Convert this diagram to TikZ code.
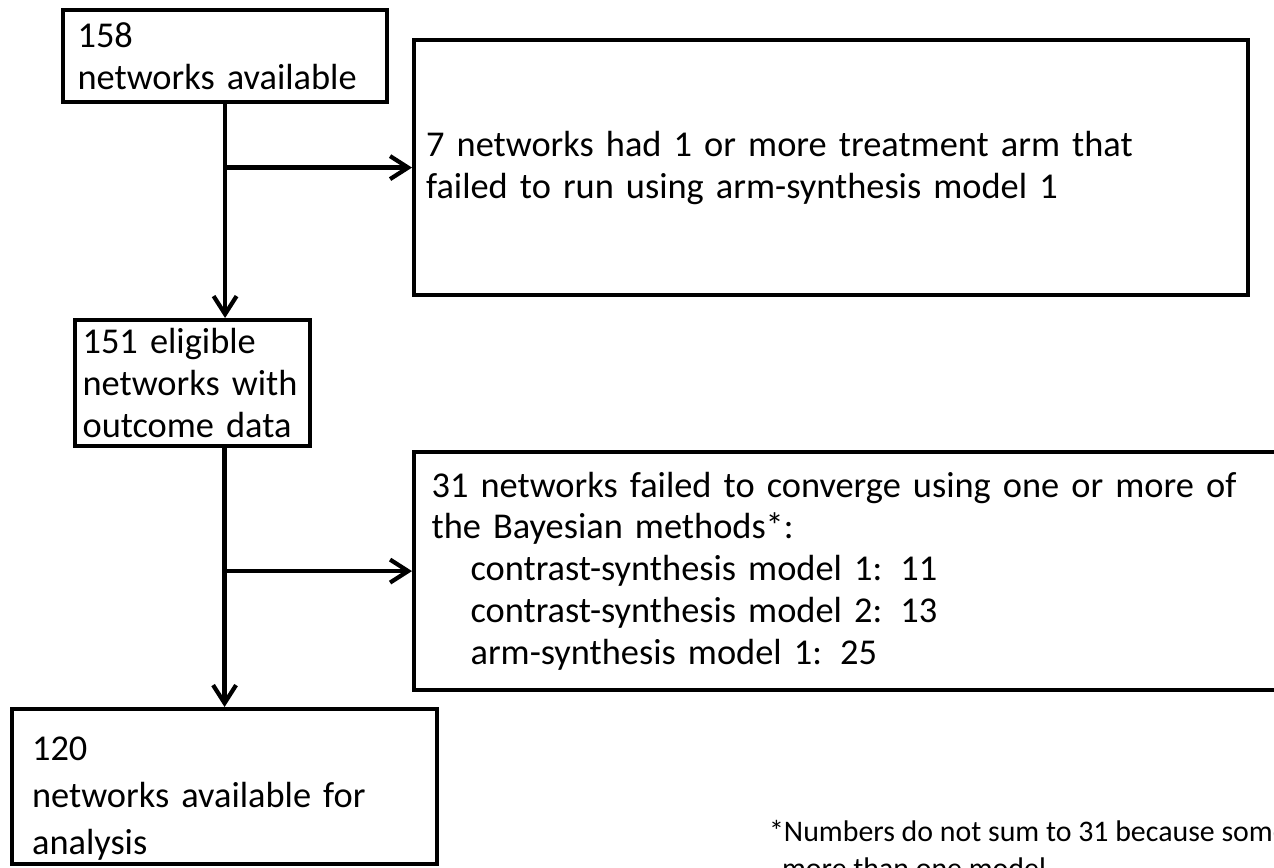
\documentclass[tikz,border=0pt]{standalone}
\usepackage{fontspec}
\setmainfont{Carlito}
\usetikzlibrary{arrows.meta}

\begin{document}
\begin{tikzpicture}[x=0.02cm,y=-0.02cm,line width=2.4pt,
  box/.style={draw,rectangle,align=left,inner xsep=0.35cm,inner ysep=0pt,
    font=\fontsize{20.7}{23.8}\selectfont},
  flow/.style={-{Straight Barb[length=3.6mm,width=4.6mm]}}]
\useasboundingbox (0,0) rectangle (1274,867);
\clip (0,0) rectangle (1274,867);
\node[box,anchor=north west,minimum width=6.48cm,minimum height=1.84cm,text width=5.9cm,inner xsep=0.29cm] (avail) at (61,8) {158\\networks available};
\node[box,anchor=north west,minimum width=16.68cm,minimum height=5.1cm,text width=16.2cm,inner xsep=0.24cm] (armfail) at (412,38) {7 networks had 1 or more treatment arm that\\failed to run using arm-synthesis model 1};
\node[box,anchor=north west,minimum width=4.7cm,minimum height=2.52cm,text width=4.4cm,inner xsep=0.15cm] (eligible) at (73,318) {151 eligible\\networks with\\outcome data};
\node[box,anchor=north west,minimum width=18.5cm,minimum height=4.76cm,text width=17.8cm] (noconv) at (412,450) {31 networks failed to converge using one or more of\\the Bayesian methods*:\\\hspace*{0.78cm}contrast-synthesis model 1: 11\\\hspace*{0.78cm}contrast-synthesis model 2: 13\\\hspace*{0.78cm}arm-synthesis model 1: 25};
\node[box,anchor=north west,minimum width=8.5cm,minimum height=3.1cm,text width=7.7cm,inner xsep=0.4cm] (analysis) at (10,707) {\rule{0pt}{0.95cm}120\\[3pt]networks available for\\[3pt]analysis};
\node[anchor=north west,inner sep=0pt,align=left,font=\fontsize{17}{21}\selectfont] (note) at (767,818) {*Numbers do not sum to 31 because some\\\hspace*{0.26cm}more than one model};
% flow lines
\draw[flow] (avail.south) -- (avail.south |- eligible.north);
\draw[flow] (avail.south |- armfail.west) -- (armfail.west);
\draw[flow] (analysis.north |- eligible.south) -- (analysis.north);
\draw[flow] (analysis.north |- noconv.west) -- (noconv.west);
\end{tikzpicture}
\end{document}
